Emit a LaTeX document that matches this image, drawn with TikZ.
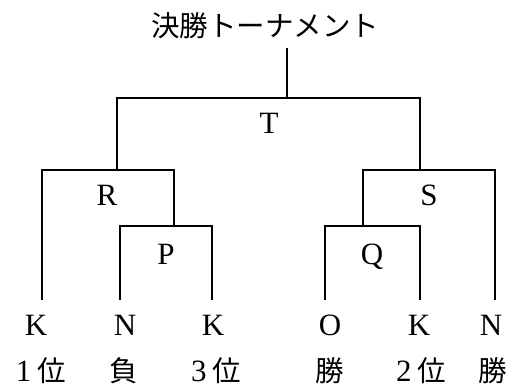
\documentclass[tikz,border=0pt]{standalone}
\usepackage{fontspec}
\setmainfont{Liberation Serif}
\newfontfamily\jp{Noto Sans CJK JP}
\begin{document}
\begin{tikzpicture}[x=1pt,y=-1pt,
  br/.style={line width=2pt, line join=miter},
  lbl/.style={font=\fontsize{31}{32}\selectfont, inner sep=0pt, anchor=base},
  jlbl/.style={font=\jp\fontsize{28.5}{30}\selectfont, inner sep=0pt, anchor=base}]
\useasboundingbox (0,0) rectangle (518,388);
% title
\node[jlbl] (title) at (265,36) {決勝トーナメント};
% junctions
\coordinate (rt) at (287,48);
\coordinate (t) at (287,98);
\coordinate (tl) at (117,98);
\coordinate (tr) at (420,98);
\coordinate (r) at (117,170);
\coordinate (rl) at (42,170);
\coordinate (rr) at (174,170);
\coordinate (s) at (420,170);
\coordinate (sl) at (363,170);
\coordinate (sr) at (495,170);
\coordinate (p) at (174,226);
\coordinate (pl) at (120,226);
\coordinate (pr) at (212,226);
\coordinate (q) at (363,226);
\coordinate (ql) at (325,226);
\coordinate (qr) at (420,226);
\coordinate (l1) at (42,300);
\coordinate (l2) at (120,300);
\coordinate (l3) at (212,300);
\coordinate (l4) at (325,300);
\coordinate (l5) at (420,300);
\coordinate (l6) at (495,300);
% brackets
\draw[br] (rt) -- (t);
\draw[br] (r) -- (tl) -- (tr) -- (s);
\draw[br] (l1) -- (rl) -- (rr) -- (p);
\draw[br] (q) -- (sl) -- (sr) -- (l6);
\draw[br] (l2) -- (pl) -- (pr) -- (l3);
\draw[br] (l4) -- (ql) -- (qr) -- (l5);
% match labels
\node[lbl] (T) at (269,133) {T};
\node[lbl] (R) at (107,205) {R};
\node[lbl] (S) at (429,205) {S};
\node[lbl] (P) at (166,264) {P};
\node[lbl] (Q) at (372,264) {Q};
% teams
\node[lbl] (k1) at (36,335) {K};
\node[lbl] (n1) at (125,335) {N};
\node[lbl] (k2) at (213,335) {K};
\node[lbl] (o1) at (330,335) {O};
\node[lbl] (k3) at (419,335) {K};
\node[lbl] (n2) at (491,335) {N};
% results
\node[lbl] (res1) at (41,381) {1\hspace{6pt}{\jp\fontsize{28.5}{30}\selectfont 位}};
\node[jlbl] (res2) at (124,381) {負};
\node[lbl] (res3) at (216,381) {3\hspace{6pt}{\jp\fontsize{28.5}{30}\selectfont 位}};
\node[jlbl] (res4) at (330,381) {勝};
\node[lbl] (res5) at (421,381) {2\hspace{6pt}{\jp\fontsize{28.5}{30}\selectfont 位}};
\node[jlbl] (res6) at (493,381) {勝};
\end{tikzpicture}
\end{document}
